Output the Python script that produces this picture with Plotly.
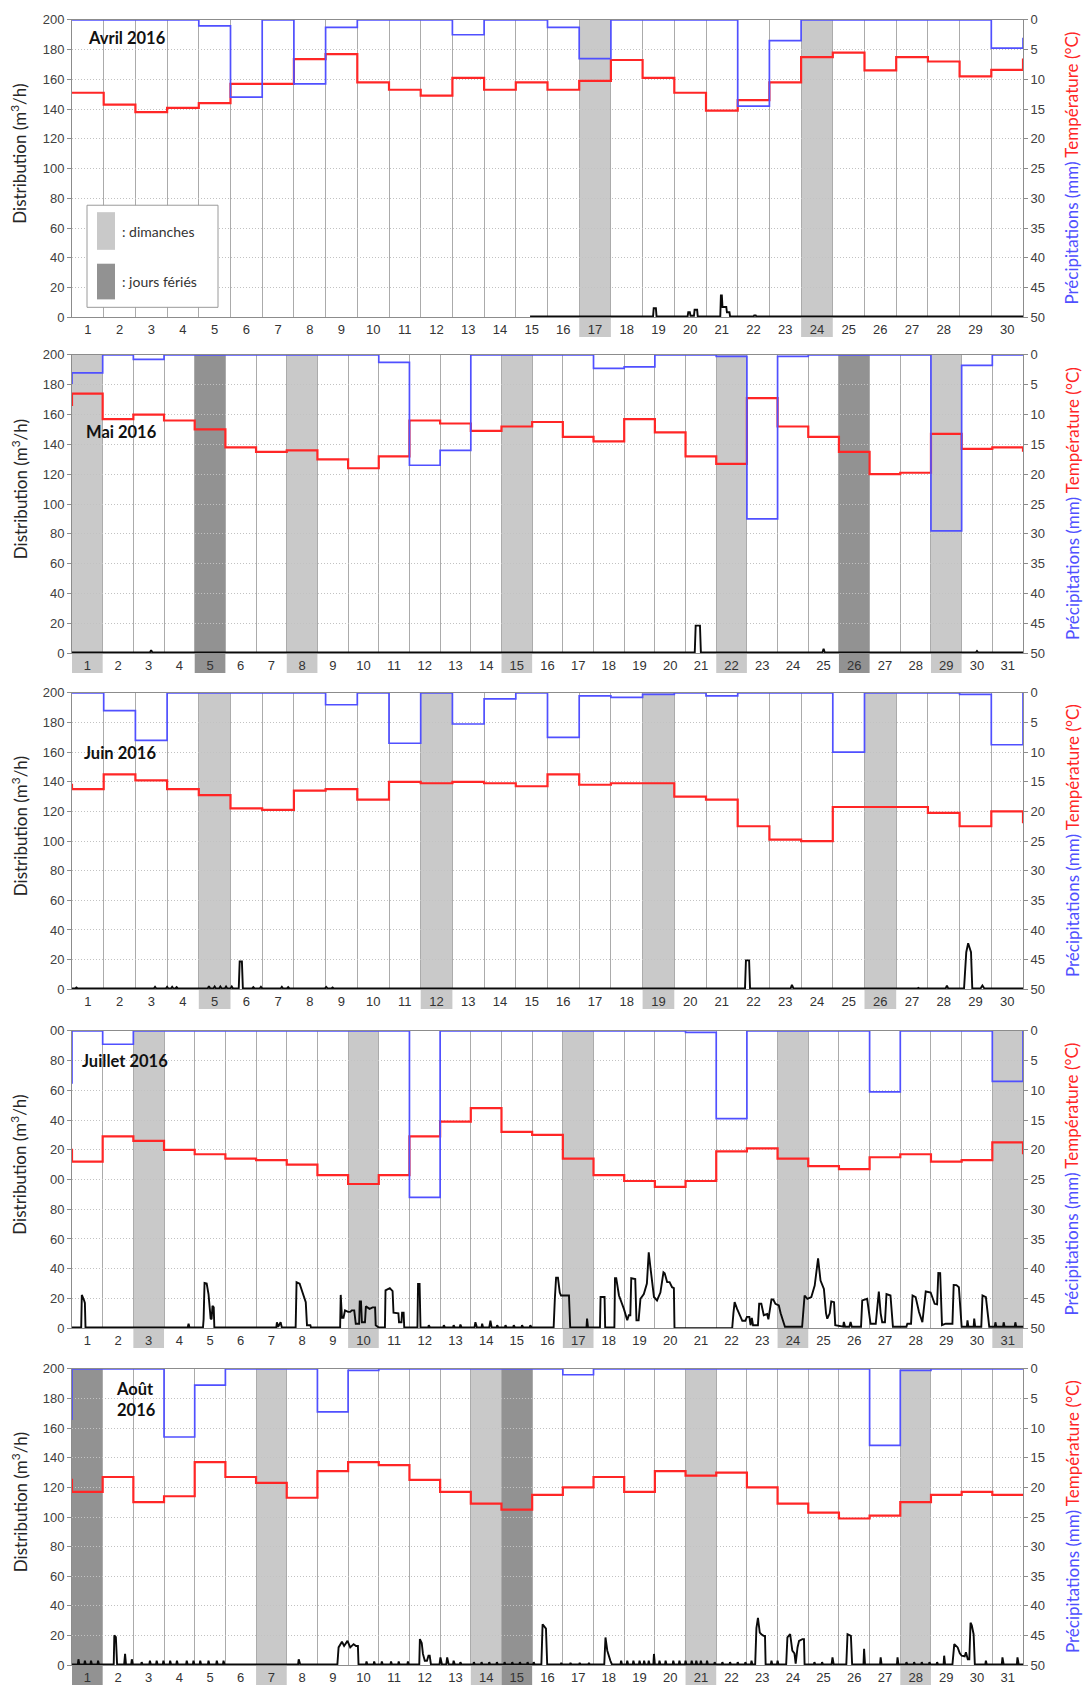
import plotly.graph_objects as go

W, H = 1084, 1695

TITRES = ["Avril 2016", "Mai 2016", "Juin 2016", "Juillet 2016", "Août<br>2016"]
NB_JOURS = [30, 31, 30, 31, 31]

# Précipitations journalières (mm)
PLUIE_AVR = [0, 0, 0, 0, 1, 13, 0, 10.75, 1.25, 0, 0, 0, 2.5, 0, 0, 1.25, 6.5, 0, 0, 0,
             0, 14.5, 3.5, 0, 0, 0, 0, 0, 0, 4.75]
PLUIE_MAI = [3, 0, 0.75, 0, 0, 0, 0, 0, 0, 0, 1.25, 18.5, 16, 0, 0, 0, 0, 2.25, 2, 0,
             0, 0.25, 27.5, 0.25, 0, 0, 0, 0, 29.5, 1.75, 0]
PLUIE_JUN = [0, 3, 8, 0, 0, 0, 0, 0, 2, 0, 8.5, 0, 5.25, 1, 0, 7.5, 0.5, 0.75, 0.25, 0,
             0.5, 0, 0, 0, 10, 0, 0, 0, 0.25, 8.75]
PLUIE_JUL = [0, 2.25, 0, 0, 0, 0, 0, 0, 0, 0, 0, 28, 0, 0, 0, 0, 0, 0, 0, 0,
             0.25, 14.75, 0, 0, 0, 0, 10.25, 0, 0, 0, 8.5]
PLUIE_AOU = [0, 0, 0, 11.5, 2.75, 0, 0, 0, 7.25, 0.25, 0, 0, 0, 0, 0, 0, 1, 0, 0, 0,
             0, 0, 0, 0, 0, 0, 12.9, 0.25, 0, 0, 0]

# Température moyenne journalière (°C)
TEMP_AVR = [12.25, 14.25, 15.5, 14.8, 14, 10.75, 10.75, 6.6, 5.75, 10.5, 11.75, 12.75, 9.75,
            11.75, 10.5, 11.75, 10.25, 6.75, 9.75, 12.25, 15.25, 13.5, 10.5, 6.25, 5.5, 8.5,
            6.25, 7, 9.5, 8.4]
TEMP_MAI = [6.5, 10.75, 10, 11, 12.5, 15.5, 16.25, 16, 17.5, 19, 17, 11, 11.5, 12.75, 12,
            11.25, 13.75, 14.5, 10.75, 13, 17, 18.25, 7.25, 12, 13.75, 16.25, 20, 19.75,
            13.25, 15.75, 15.5]
TEMP_JUN = [16.25, 13.75, 14.75, 16.25, 17.25, 19.5, 19.75, 16.5, 16.25, 18, 15, 15.25, 15,
            15.25, 15.75, 13.75, 15.5, 15.25, 15.25, 17.5, 18, 22.5, 24.75, 25, 19.25, 19.25,
            19.25, 20.25, 22.5, 20]
TEMP_JUL = [22, 17.75, 18.5, 20, 20.75, 21.5, 21.75, 22.5, 24.25, 25.75, 24.25, 17.75, 15.25,
            13, 17, 17.5, 21.5, 24.25, 25.25, 26.25, 25.25, 20.25, 19.75, 21.5, 22.75, 23.25,
            21.25, 20.75, 22, 21.75, 18.75]
TEMP_AOU = [20.75, 18.25, 22.5, 21.5, 15.75, 18.25, 19.25, 21.75, 17.25, 15.75, 16.25, 18.75,
            20.75, 22.75, 23.75, 21.25, 20, 18.25, 20.75, 17.25, 18, 17.5, 20, 22.75, 24.25,
            25.25, 24.75, 22.5, 21.25, 20.75, 21.25]

# Distribution horaire (m3/h) : (jour, débit)
DEBIT_AVR = [(14.95, 0.5), (18.83, 0.5), (18.85, 6), (18.92, 6), (18.94, 0.5), (19.92, 0.5),
             (19.94, 3.3), (19.99, 3.3), (20.01, 1), (20.12, 1), (20.14, 5), (20.22, 5),
             (20.24, 0.5), (20.95, 0.5), (20.97, 14.7), (21.0, 14.7), (21.02, 6.9), (21.14, 6.9),
             (21.16, 3.3), (21.24, 3.3), (21.26, 0.5), (22.0, 0.5), (22.02, 1.2), (22.07, 1.2),
             (22.09, 0.5), (30.5, 0.5)]
DEBIT_MAI = [(0.5, 0.5), (3.04, 0.5), (3.08, 2), (3.12, 0.5), (20.8, 0.5), (20.83, 18.5),
             (20.97, 18.5), (21.0, 0.5), (24.96, 0.5), (25.0, 3), (25.04, 0.5), (29.96, 0.5),
             (30.0, 1.5), (30.04, 0.5), (31.5, 0.5)]
DEBIT_JUN = [(0.5, 0.5), (0.6, 0.5), (0.64, 1.2), (0.68, 0.5), (3.08, 0.5), (3.12, 1.6),
             (3.16, 0.5), (3.46, 0.5), (3.5, 1.6), (3.54, 0.5), (3.62, 0.5), (3.66, 1.6),
             (3.7, 0.5), (3.76, 0.5), (3.8, 1.4), (3.84, 0.5), (4.78, 0.5), (4.82, 2),
             (4.86, 0.5), (4.96, 0.5), (5.0, 1.8), (5.04, 0.5), (5.14, 0.5), (5.18, 1.8),
             (5.22, 0.5), (5.32, 0.5), (5.36, 1.8), (5.4, 0.5), (5.5, 0.5), (5.54, 1.8),
             (5.58, 0.5), (5.76, 0.5), (5.79, 18.7), (5.86, 18.7), (5.89, 0.5), (6.18, 0.5),
             (6.22, 1.4), (6.26, 0.5), (6.42, 0.5), (6.46, 1.6), (6.5, 0.5), (7.08, 0.5),
             (7.12, 1.6), (7.16, 0.5), (7.28, 0.5), (7.32, 1.4), (7.36, 0.5), (7.7, 0.5),
             (7.74, 1), (7.78, 0.5), (7.96, 0.5), (8.0, 1), (8.04, 0.5), (8.48, 0.5), (8.52, 1.5),
             (8.56, 0.5), (8.68, 0.5), (8.72, 1.2), (8.76, 0.5), (21.73, 0.5), (21.76, 19.5),
             (21.86, 19.5), (21.89, 0.5), (23.17, 0.5), (23.21, 3), (23.26, 0.5), (27.16, 0.5),
             (27.2, 1), (27.24, 0.5), (28.06, 0.5), (28.1, 2.5), (28.14, 0.5), (28.64, 0.5),
             (28.67, 15), (28.71, 25), (28.77, 31), (28.82, 28), (28.86, 25), (28.9, 0.5),
             (29.16, 0.5), (29.22, 2.5), (29.28, 0.5), (30.5, 0.5)]
DEBIT_JUL = [(0.5, 0.5), (0.8, 0.5), (0.82, 22.4), (0.86, 21), (0.89, 19), (0.92, 17),
             (0.94, 0.5), (4.27, 0.5), (4.3, 3.1), (4.33, 0.5), (4.77, 0.5), (4.79, 6),
             (4.82, 30.4), (4.89, 30), (4.95, 23), (5.02, 6.5), (5.05, 6), (5.08, 15),
             (5.12, 14), (5.14, 0.5), (7.16, 0.5), (7.18, 4), (7.22, 1), (7.3, 4), (7.34, 0.5),
             (7.79, 0.5), (7.82, 30.9), (7.92, 30), (8.01, 25), (8.12, 17.5), (8.16, 2),
             (8.27, 2), (8.29, 0.5), (9.24, 0.5), (9.26, 22.4), (9.3, 7), (9.35, 7), (9.4, 12),
             (9.5, 11), (9.57, 11), (9.62, 12), (9.7, 12), (9.75, 3), (9.86, 3), (9.88, 18),
             (9.92, 18), (9.95, 4), (10.05, 4), (10.08, 14.7), (10.2, 13), (10.3, 14),
             (10.38, 14), (10.4, 2), (10.5, 0.5), (10.7, 0.5), (10.72, 25.5), (10.86, 27),
             (10.95, 25), (10.98, 10.4), (11.14, 10), (11.16, 4), (11.24, 4), (11.26, 10.4),
             (11.31, 10.4), (11.33, 0.5), (11.76, 0.5), (11.78, 29.8), (11.83, 29.8),
             (11.86, 0.5), (12.11, 0.5), (12.13, 2), (12.17, 0.5), (12.6, 0.5), (12.62, 2),
             (12.66, 0.5), (12.92, 0.5), (12.94, 2), (12.98, 0.5), (13.14, 0.5), (13.16, 2.5),
             (13.2, 0.5), (13.62, 0.5), (13.65, 4), (13.7, 0.5), (13.85, 0.5), (13.87, 3),
             (13.9, 0.5), (14.1, 0.5), (14.14, 5), (14.18, 0.5), (14.34, 0.5), (14.36, 2),
             (14.4, 0.5), (14.61, 0.5), (14.63, 2), (14.67, 0.5), (14.88, 0.5), (14.9, 2),
             (14.94, 0.5), (15.15, 0.5), (15.17, 2), (15.21, 0.5), (15.42, 0.5), (15.44, 2),
             (15.48, 0.5), (16.2, 0.5), (16.24, 20), (16.28, 34), (16.34, 34), (16.4, 24),
             (16.44, 22), (16.7, 22), (16.74, 0.5), (17.27, 0.5), (17.29, 6.4), (17.32, 0.5),
             (17.71, 0.5), (17.73, 21), (17.86, 21), (17.88, 0.5), (18.18, 0.5), (18.2, 33.6),
             (18.24, 33.6), (18.33, 22), (18.49, 13), (18.6, 5.3), (18.65, 8.7), (18.7, 8.7),
             (18.73, 33.6), (18.86, 33), (18.9, 5.3), (18.97, 5.3), (19.03, 19.8), (19.14, 23),
             (19.24, 30), (19.3, 51), (19.36, 40), (19.47, 21), (19.57, 18.7), (19.68, 24),
             (19.78, 37.6), (19.82, 37), (19.9, 31), (19.98, 31), (20.06, 27.6), (20.12, 27),
             (20.14, 0), (22.02, 0), (22.06, 10), (22.1, 17.5), (22.18, 13), (22.3, 8),
             (22.35, 5), (22.45, 5), (22.5, 7.6), (22.58, 7.6), (22.62, 2), (22.66, 7),
             (22.7, 2), (22.86, 2), (22.9, 16.4), (22.97, 16.4), (23.05, 8.7), (23.16, 9.5),
             (23.2, 6), (23.3, 19.3), (23.36, 19.3), (23.43, 16.4), (23.54, 15.3), (23.6, 10),
             (23.65, 6.4), (23.74, 1), (24.3, 1), (24.34, 15), (24.38, 22), (24.47, 19.8),
             (24.6, 20.9), (24.71, 28.7), (24.82, 46.9), (24.9, 32), (25.01, 26.4), (25.08, 10),
             (25.12, 6.4), (25.2, 10), (25.25, 18), (25.34, 17.5), (25.38, 2), (25.64, 1),
             (25.66, 4.2), (25.7, 1), (25.84, 1), (25.88, 4.2), (25.92, 1), (26.22, 1),
             (26.26, 18.7), (26.42, 19.8), (26.48, 10), (26.53, 3), (26.7, 3), (26.76, 20),
             (26.8, 24.7), (26.86, 10), (26.91, 4), (27.0, 4), (27.05, 23), (27.18, 22),
             (27.26, 1), (27.7, 1), (27.73, 3), (27.85, 3), (27.9, 22), (28.0, 20.9),
             (28.11, 10.9), (28.22, 4), (28.3, 20), (28.33, 24.7), (28.49, 24), (28.62, 16.4),
             (28.7, 16), (28.74, 37.1), (28.8, 37), (28.86, 2), (28.98, 3), (29.2, 3),
             (29.24, 29.1), (29.33, 29), (29.41, 27.6), (29.5, 1), (29.67, 1), (29.69, 5.3),
             (29.72, 1), (29.89, 1), (29.91, 6.4), (29.94, 1), (30.14, 1), (30.18, 22),
             (30.29, 20.9), (30.37, 3), (30.4, 1), (30.58, 1), (30.6, 4), (30.63, 1),
             (30.85, 1), (30.87, 4), (30.9, 1), (31.23, 1), (31.25, 4), (31.28, 1), (31.5, 1)]
DEBIT_AOU = [(0.5, 0.5), (0.69, 0.5), (0.71, 4), (0.74, 0.5), (0.9, 0.5), (0.92, 3),
             (0.95, 0.5), (1.1, 0.5), (1.12, 3), (1.15, 0.5), (1.33, 0.5), (1.35, 3),
             (1.38, 0.5), (1.86, 0.5), (1.88, 20.2), (1.93, 19), (1.97, 0.5), (2.2, 0.5),
             (2.23, 7.6), (2.26, 0.5), (2.43, 0.5), (2.45, 4), (2.48, 0.5), (2.75, 0.5),
             (2.77, 2), (2.8, 0.5), (3.02, 0.5), (3.04, 3), (3.07, 0.5), (3.24, 0.5), (3.26, 3),
             (3.29, 0.5), (3.46, 0.5), (3.48, 3), (3.51, 0.5), (3.68, 0.5), (3.7, 3),
             (3.73, 0.5), (3.9, 0.5), (3.92, 3), (3.95, 0.5), (4.22, 0.5), (4.24, 3),
             (4.27, 0.5), (4.44, 0.5), (4.46, 3), (4.49, 0.5), (4.66, 0.5), (4.68, 3),
             (4.71, 0.5), (4.93, 0.5), (4.95, 3), (4.98, 0.5), (5.2, 0.5), (5.22, 3),
             (5.25, 0.5), (5.42, 0.5), (5.44, 3), (5.47, 0.5), (7.87, 0.5), (7.89, 4),
             (7.94, 0.5), (9.15, 0.5), (9.19, 12), (9.3, 15.8), (9.37, 13), (9.48, 16.4),
             (9.57, 12), (9.68, 14.2), (9.76, 13), (9.82, 13), (9.84, 0.5), (10.08, 0.5),
             (10.1, 2.5), (10.13, 0.5), (10.33, 0.5), (10.35, 2.5), (10.38, 0.5), (10.58, 0.5),
             (10.6, 2.5), (10.63, 0.5), (10.88, 0.5), (10.9, 2.5), (10.93, 0.5), (11.13, 0.5),
             (11.15, 2.5), (11.18, 0.5), (11.43, 0.5), (11.45, 2.5), (11.48, 0.5), (11.82, 0.5),
             (11.84, 17.6), (11.9, 15), (11.94, 7.6), (12.0, 3), (12.07, 3), (12.12, 6.4),
             (12.16, 6.4), (12.2, 0.5), (12.48, 0.5), (12.51, 5.3), (12.56, 0.5), (12.7, 0.5),
             (12.73, 5.3), (12.78, 0.5), (12.92, 0.5), (12.94, 3), (12.98, 0.5), (13.14, 0.5),
             (13.16, 2), (13.2, 0.5), (13.58, 0.5), (13.6, 2), (13.63, 0.5), (13.83, 0.5),
             (13.85, 2), (13.88, 0.5), (14.08, 0.5), (14.1, 2), (14.13, 0.5), (14.33, 0.5),
             (14.35, 2), (14.38, 0.5), (14.58, 0.5), (14.6, 2), (14.63, 0.5), (14.83, 0.5),
             (14.85, 2), (14.88, 0.5), (15.08, 0.5), (15.1, 2), (15.13, 0.5), (15.33, 0.5),
             (15.35, 2), (15.38, 0.5), (15.53, 0.5), (15.55, 2), (15.58, 0.5), (15.8, 0.5),
             (15.84, 27.6), (15.9, 26), (15.95, 24.7), (15.99, 0.5), (16.43, 0.5), (16.45, 1.5),
             (16.48, 0.5), (16.73, 0.5), (16.75, 1.5), (16.78, 0.5), (17.03, 0.5), (17.05, 1.5),
             (17.08, 0.5), (17.33, 0.5), (17.35, 1.5), (17.38, 0.5), (17.85, 0.5), (17.89, 18.7),
             (17.95, 9.8), (18.05, 3), (18.1, 0.5), (18.38, 0.5), (18.4, 3), (18.43, 0.5),
             (18.58, 0.5), (18.6, 3), (18.63, 0.5), (18.78, 0.5), (18.8, 3), (18.83, 0.5),
             (18.98, 0.5), (19.0, 3), (19.03, 0.5), (19.13, 0.5), (19.15, 3), (19.18, 0.5),
             (19.28, 0.5), (19.3, 3), (19.33, 0.5), (19.45, 0.5), (19.47, 7.6), (19.5, 0.5),
             (19.63, 0.5), (19.65, 3), (19.68, 0.5), (19.83, 0.5), (19.85, 3), (19.88, 0.5),
             (20.08, 0.5), (20.1, 3), (20.13, 0.5), (20.28, 0.5), (20.3, 3), (20.33, 0.5),
             (20.48, 0.5), (20.5, 3), (20.53, 0.5), (20.68, 0.5), (20.7, 3), (20.73, 0.5),
             (20.83, 0.5), (20.85, 3), (20.88, 0.5), (20.98, 0.5), (21.0, 3), (21.03, 0.5),
             (21.18, 0.5), (21.2, 3), (21.23, 0.5), (21.43, 0.5), (21.45, 2), (21.48, 0.5),
             (21.68, 0.5), (21.7, 2), (21.73, 0.5), (21.93, 0.5), (21.95, 2), (21.98, 0.5),
             (22.18, 0.5), (22.2, 2), (22.23, 0.5), (22.43, 0.5), (22.45, 2), (22.48, 0.5),
             (22.63, 0.5), (22.65, 3), (22.68, 0.5), (22.77, 0.5), (22.81, 25), (22.86, 32),
             (22.92, 22), (22.97, 20.9), (23.04, 19.8), (23.09, 19.8), (23.11, 0.5),
             (23.28, 0.5), (23.3, 3), (23.33, 0.5), (23.48, 0.5), (23.5, 3), (23.53, 0.5),
             (23.78, 0.5), (23.82, 18.7), (23.91, 20.9), (23.98, 9.8), (24.05, 8), (24.09, 1),
             (24.15, 12), (24.2, 16.4), (24.31, 17.6), (24.36, 17.6), (24.38, 0.5),
             (24.68, 0.5), (24.7, 2), (24.73, 0.5), (24.93, 0.5), (24.95, 2), (24.98, 0.5),
             (25.26, 0.5), (25.29, 5.3), (25.33, 0.5), (25.74, 0.5), (25.78, 20.9),
             (25.89, 19.8), (25.93, 0.5), (26.3, 0.5), (26.32, 11), (26.35, 0.5), (26.84, 0.5),
             (26.86, 5.3), (26.89, 0.5), (27.39, 0.5), (27.41, 5.3), (27.44, 0.5), (27.68, 0.5),
             (27.7, 2), (27.73, 0.5), (27.93, 0.5), (27.95, 2), (27.98, 0.5), (28.18, 0.5),
             (28.2, 2), (28.23, 0.5), (28.43, 0.5), (28.45, 2), (28.48, 0.5), (28.68, 0.5),
             (28.7, 2), (28.73, 0.5), (28.91, 0.5), (28.93, 6.4), (28.96, 0.5), (29.2, 0.5),
             (29.26, 14.2), (29.37, 12), (29.44, 8), (29.5, 6.4), (29.6, 6), (29.64, 8.7),
             (29.7, 4), (29.75, 4), (29.79, 28.7), (29.83, 27), (29.89, 20.9), (29.93, 0.5),
             (30.27, 0.5), (30.29, 3), (30.32, 0.5), (30.81, 0.5), (30.83, 5.3), (30.87, 0.5),
             (31.3, 0.5), (31.32, 5.3), (31.36, 0.5), (31.5, 0.5)]

PLUIES = [PLUIE_AVR, PLUIE_MAI, PLUIE_JUN, PLUIE_JUL, PLUIE_AOU]
TEMPS = [TEMP_AVR, TEMP_MAI, TEMP_JUN, TEMP_JUL, TEMP_AOU]
DEBITS = [DEBIT_AVR, DEBIT_MAI, DEBIT_JUN, DEBIT_JUL, DEBIT_AOU]

DIMANCHES = [[17, 24], [1, 8, 15, 22, 29], [5, 12, 19, 26], [3, 10, 17, 24, 31], [7, 14, 21, 28]]
FERIES = [[], [5, 26], [], [], [1, 15]]

TICKS_DEBIT = [0, 20, 40, 60, 80, 100, 120, 140, 160, 180, 200]
LABELS_DEBIT = ["0", "20", "40", "60", "80", "100", "120", "140", "160", "180", "200"]
LABELS_DEBIT_COUPES = ["0", "20", "40", "60", "80", "00", "20", "40", "60", "80", "00"]
TICKS_PLUIE = [0, 5, 10, 15, 20, 25, 30, 35, 40, 45, 50]

# Layout geometry in pixels
X_PX = (72, 1023)
PANNEAUX_PX = [(13, 313), (351, 652), (692, 991), (1033, 1333), (1374, 1673)]
TITRE_PX = [(86, 31), (84, 429), (82, 753), (80, 1063), (114, 1405)]

ROUGE = "#ff2626"
BLEU = "#5050ff"
GRIS_AXE = "#8c8c8c"
GRIS_DIM = "#c9c9c9"
GRIS_FER = "#929292"
POLICE_TXT = "Lato, 'Open Sans', sans-serif"
POLICE_NUM = "'Liberation Sans', Arial, sans-serif"


def px(x):
    return x / W


def py(y):
    return 1 - y / H


def nom(prefix, k):
    return prefix if k == 1 else f"{prefix}{k}"


fig = go.Figure()
layout = dict(
    width=W, height=H, margin=dict(l=0, r=0, t=0, b=0),
    paper_bgcolor="white", plot_bgcolor="white", showlegend=False,
    font=dict(family=POLICE_NUM, size=13, color="#404040"),
)
shapes, annotations = [], []

for i in range(5):
    n = NB_JOURS[i]
    top, bot = PANNEAUX_PX[i]
    xk, yl, yr = i + 1, 2 * i + 1, 2 * i + 2
    xname, ylname, yrname = nom("x", xk), nom("y", yl), nom("y", yr)

    layout["xaxis" + ("" if xk == 1 else str(xk))] = dict(
        domain=[px(X_PX[0]), px(X_PX[1])], anchor=ylname, range=[0.5, n + 0.5],
        tickmode="array", tickvals=list(range(1, n + 1)),
        ticktext=[str(d) for d in range(1, n + 1)],
        showgrid=False, zeroline=False, ticks="",
        showline=True, linecolor=GRIS_AXE, linewidth=1, mirror=True,
        tickfont=dict(family=POLICE_NUM, size=13, color="#333333"),
        minor=dict(tickmode="array", tickvals=[k + 0.5 for k in range(n + 1)],
                   showgrid=True, gridcolor="#ababab", gridwidth=1, ticks=""),
        fixedrange=True,
    )
    layout["yaxis" + ("" if yl == 1 else str(yl))] = dict(
        domain=[py(bot), py(top)], anchor=xname, range=[0, 200],
        tickmode="array", tickvals=TICKS_DEBIT,
        ticktext=LABELS_DEBIT_COUPES if i == 3 else LABELS_DEBIT,
        showgrid=True, gridcolor="#c2c2c2", griddash="1px,2px", gridwidth=1,
        zeroline=False, showline=True, linecolor=GRIS_AXE, linewidth=1,
        ticks="outside", ticklen=4, tickcolor=GRIS_AXE,
        tickfont=dict(family=POLICE_NUM, size=13, color="#404040"),
        fixedrange=True,
    )
    layout["yaxis" + str(yr)] = dict(
        overlaying=ylname, side="right", anchor=xname, range=[50, 0],
        tickmode="array", tickvals=TICKS_PLUIE,
        ticktext=[str(v) for v in TICKS_PLUIE],
        showgrid=False, zeroline=False, showline=True, linecolor=GRIS_AXE, linewidth=1,
        ticks="outside", ticklen=4, tickcolor=GRIS_AXE,
        tickfont=dict(family=POLICE_NUM, size=13, color="#404040"),
        fixedrange=True,
    )

    # Sundays and public holidays: shaded day columns, running under the day labels
    for jours, couleur in ((DIMANCHES[i], GRIS_DIM), (FERIES[i], GRIS_FER)):
        for d in jours:
            shapes.append(dict(
                type="rect", xref=xname, yref="paper", x0=d - 0.5, x1=d + 0.5,
                y0=py(bot + 20), y1=py(top), fillcolor=couleur, line=dict(width=0),
                layer="below",
            ))

    # Hourly distribution
    t = [p[0] for p in DEBITS[i]]
    q = [p[1] for p in DEBITS[i]]
    fig.add_trace(go.Scatter(x=t, y=q, xaxis=xname, yaxis=ylname, mode="lines",
                             line=dict(color="#0a0a0a", width=1.9), hoverinfo="skip"))

    # Daily steps, joined to the neighbouring months at the edges
    debuts = [d - 0.5 for d in range(1, n + 1)]
    for serie, couleur, largeur in ((TEMPS, ROUGE, 2.2), (PLUIES, BLEU, 1.7)):
        xs = list(debuts)
        ys = list(serie[i])
        if i > 0:
            xs = [-0.5] + xs
            ys = [serie[i - 1][-1]] + ys
        xs.append(n + 0.5)
        ys.append(serie[i + 1][0] if i < 4 else serie[i][-1])
        fig.add_trace(go.Scatter(x=xs, y=ys, xaxis=xname, yaxis=yrname, mode="lines",
                                 line=dict(color=couleur, width=largeur, shape="hv"),
                                 hoverinfo="skip"))

    # Month title
    tx, ty = TITRE_PX[i]
    annotations.append(dict(
        text=f"<b>{TITRES[i]}</b>", xref="paper", yref="paper", x=px(tx), y=py(ty),
        xanchor="left", yanchor="middle", showarrow=False, align="left",
        font=dict(family=POLICE_TXT, size=16.5, color="#111111"),
    ))
    # Axis titles
    centre = (top + bot) / 2
    annotations.append(dict(
        text="Distribution (m<sup>3</sup>/h)", xref="paper", yref="paper",
        x=px(19), y=py(centre - 15), textangle=-90, showarrow=False,
        xanchor="center", yanchor="middle",
        font=dict(family=POLICE_TXT, size=17, color="#262626"),
    ))
    annotations.append(dict(
        text=(f"<span style='color:{BLEU}'>Précipitations (mm)</span> "
              f"<span style='color:{ROUGE}'>Température (°C)</span>"),
        xref="paper", yref="paper", x=px(1072), y=py(centre), textangle=-90,
        showarrow=False, xanchor="center", yanchor="middle",
        font=dict(family=POLICE_TXT, size=17, color=BLEU),
    ))

# Key for the shaded columns
shapes.append(dict(type="rect", xref="paper", yref="paper", x0=px(87), x1=px(218),
                   y0=py(303), y1=py(200), fillcolor="white",
                   line=dict(color="#9a9a9a", width=1), layer="above"))
shapes.append(dict(type="rect", xref="paper", yref="paper", x0=px(97), x1=px(115),
                   y0=py(245), y1=py(207), fillcolor=GRIS_DIM, line=dict(width=0),
                   layer="above"))
shapes.append(dict(type="rect", xref="paper", yref="paper", x0=px(97), x1=px(115),
                   y0=py(295), y1=py(259), fillcolor=GRIS_FER, line=dict(width=0),
                   layer="above"))
for texte, yy in ((": dimanches", 227), (": jours fériés", 277)):
    annotations.append(dict(
        text=texte, xref="paper", yref="paper", x=px(120), y=py(yy),
        xanchor="left", yanchor="middle", showarrow=False,
        font=dict(family=POLICE_TXT, size=14, color="#333333"),
    ))

layout["shapes"] = shapes
layout["annotations"] = annotations
fig.update_layout(**layout)
fig.write_html("out.html")
